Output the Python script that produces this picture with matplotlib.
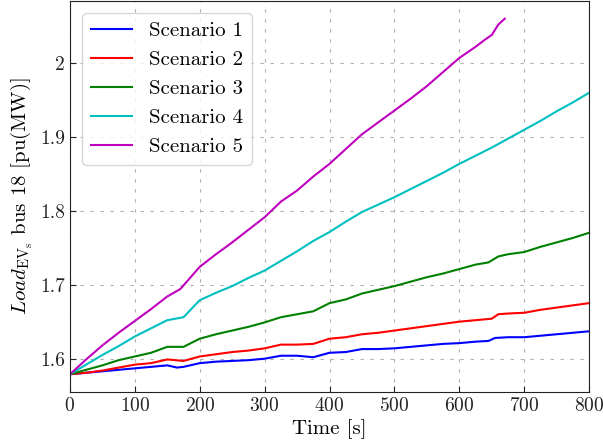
import matplotlib
matplotlib.use("Agg")
import matplotlib.pyplot as plt

# ---- data ----
t1 = [0, 25, 50, 75, 100, 125, 150, 165, 175, 200, 225, 250, 275, 300, 325, 350, 375, 400,
      425, 450, 475, 500, 525, 550, 575, 600, 625, 645, 655, 675, 700, 725, 750, 775, 800]
s1 = [1.580, 1.582, 1.584, 1.586, 1.588, 1.590, 1.592, 1.589, 1.590, 1.595, 1.597, 1.598,
      1.599, 1.601, 1.605, 1.605, 1.603, 1.609, 1.610, 1.614, 1.614, 1.615, 1.617, 1.619,
      1.621, 1.622, 1.624, 1.625, 1.629, 1.630, 1.630, 1.632, 1.634, 1.636, 1.638]

t2 = [0, 25, 50, 75, 100, 125, 150, 175, 200, 225, 250, 275, 300, 325, 350, 375, 400, 425,
      450, 475, 500, 525, 550, 575, 600, 625, 650, 660, 675, 700, 725, 750, 775, 800]
s2 = [1.580, 1.582, 1.585, 1.589, 1.593, 1.595, 1.600, 1.598, 1.604, 1.607, 1.610, 1.612,
      1.615, 1.620, 1.620, 1.621, 1.628, 1.630, 1.634, 1.636, 1.639, 1.642, 1.645, 1.648,
      1.651, 1.653, 1.655, 1.661, 1.662, 1.663, 1.667, 1.670, 1.673, 1.676]

t3 = [0, 25, 50, 75, 100, 125, 150, 175, 200, 225, 250, 275, 300, 325, 350, 375, 400, 425,
      450, 475, 500, 525, 550, 575, 600, 625, 645, 660, 675, 700, 725, 750, 775, 800]
s3 = [1.580, 1.586, 1.592, 1.599, 1.604, 1.609, 1.617, 1.617, 1.628, 1.634, 1.639, 1.644,
      1.650, 1.657, 1.661, 1.665, 1.676, 1.681, 1.689, 1.694, 1.699, 1.705, 1.711, 1.716,
      1.722, 1.728, 1.731, 1.739, 1.742, 1.745, 1.752, 1.758, 1.764, 1.771]

t4 = [0, 25, 50, 75, 100, 125, 150, 175, 200, 225, 250, 275, 300, 325, 350, 375, 400, 425,
      450, 475, 500, 525, 550, 575, 600, 625, 650, 675, 700, 725, 750, 775, 800]
s4 = [1.580, 1.593, 1.606, 1.618, 1.631, 1.642, 1.653, 1.657, 1.680, 1.690, 1.699, 1.710,
      1.720, 1.733, 1.746, 1.760, 1.772, 1.786, 1.799, 1.809, 1.819, 1.830, 1.841, 1.852,
      1.864, 1.875, 1.886, 1.898, 1.910, 1.922, 1.935, 1.947, 1.960]

t5 = [0, 25, 50, 75, 100, 125, 150, 170, 200, 225, 250, 275, 300, 325, 350, 375, 400, 425,
      450, 475, 500, 525, 550, 575, 600, 625, 640, 650, 660, 670]
s5 = [1.580, 1.600, 1.619, 1.636, 1.652, 1.668, 1.685, 1.695, 1.725, 1.742, 1.758, 1.775,
      1.792, 1.813, 1.828, 1.847, 1.864, 1.884, 1.904, 1.920, 1.936, 1.952, 1.969, 1.988,
      2.007, 2.022, 2.032, 2.038, 2.052, 2.060]

labels = ["Scenario 1", "Scenario 2", "Scenario 3", "Scenario 4", "Scenario 5"]
colors = ["#0000ff", "#ff0000", "#008000", "#00bfbf", "#bf00bf"]
xticks = [0, 100, 200, 300, 400, 500, 600, 700, 800]
yticks = [1.6, 1.7, 1.8, 1.9, 2.0]
ytick_labels = ["1.6", "1.7", "1.8", "1.9", "2"]

plt.rcParams["font.family"] = "serif"
plt.rcParams["font.serif"] = ["cmr10"]
plt.rcParams["mathtext.fontset"] = "cm"
plt.rcParams["axes.formatter.use_mathtext"] = True

fig = plt.figure(figsize=(6.03, 4.46), dpi=100)
ax = fig.add_axes([0.116, 0.121, 0.861, 0.877])

series = [(t1, s1), (t2, s2), (t3, s3), (t4, s4), (t5, s5)]
for (t, s), lab, c in zip(series, labels, colors):
    ax.plot(t, s, color=c, lw=1.5, label=lab)

ax.set_xlim(0, 800)
ax.set_xticks(xticks)
ax.set_yticks(yticks)
ax.set_yticklabels(ytick_labels)
ax.tick_params(direction="in", labelsize=14, length=4, width=0.8, colors="#222222")
for sp in ax.spines.values():
    sp.set_color("#222222")
ax.grid(True, color="#b0b0b0", linestyle=(0, (3, 6)), linewidth=0.8)
ax.set_xlabel("Time [s]", fontsize=15, labelpad=3)
ax.set_ylabel(r"$Load_{\mathrm{EV_s}}$ bus 18 [pu(MW)]", fontsize=15, labelpad=4)
ax.legend(loc="upper left", fontsize=15, framealpha=0.8, edgecolor="#cccccc",
          borderaxespad=0.6)

fig.savefig("out.png", dpi=100)
